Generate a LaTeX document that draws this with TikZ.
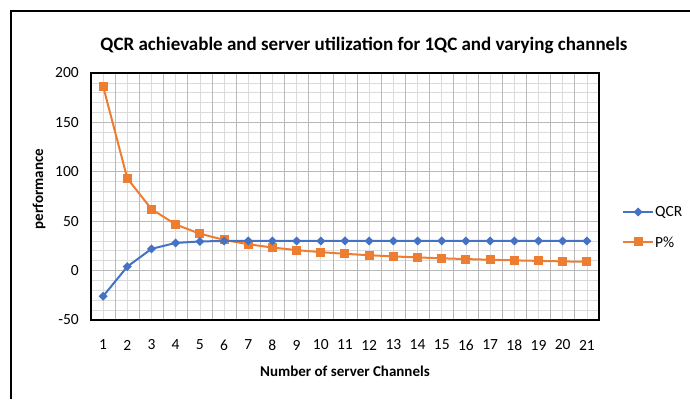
\documentclass[tikz,border=0pt]{standalone}
\usepackage{fontspec}
\setmainfont{Carlito}
\usetikzlibrary{calc}
\definecolor{qcrblue}{HTML}{4472C4}
\definecolor{porange}{HTML}{ED7D31}
\tikzset{
  minorgrid/.style={draw=gray!28, line width=0.7pt},
  majorgrid/.style={draw=gray!55, line width=0.8pt},
  qcrline/.style={draw=qcrblue, line width=2pt, line join=round},
  pline/.style={draw=porange, line width=2pt, line join=round},
  ticklabel/.style={font=\fontsize{15.5}{18}\selectfont, inner sep=0pt},
  axistitle/.style={font=\bfseries\fontsize{15}{18}\selectfont, inner sep=0pt}
}
\begin{document}
\begin{tikzpicture}[x=1pt,y=1pt]
    \useasboundingbox (0,0) rectangle (690,399);
    % Outer frame
    \draw[line width=2pt] (11,0) -- (11,388) -- (690,388);
    \node[font=\bfseries\fontsize{19}{22}\selectfont, inner sep=0pt] (title) at (364,354)
      {QCR achievable and server utilization for 1QC and varying channels};

    % Plot area: x = channel, y = performance
    \begin{scope}[shift={(78.9,128.4)}, x=24.19pt, y=0.988pt]
      % Grid
      \foreach \v in {-40,-30,...,190} \draw[minorgrid] (0.5,\v) -- (21.5,\v);
      \foreach \i in {1,...,21} \draw[minorgrid] (\i,-50) -- (\i,200);
      \foreach \v in {0,50,...,150} \draw[majorgrid] (0.5,\v) -- (21.5,\v);
      \foreach \i in {1.5,2.5,...,20.5} \draw[majorgrid] (\i,-50) -- (\i,200);
      \draw[line width=1.5pt] (0.5,-50) rectangle (21.5,200);

      % Tick labels
      \foreach \v in {-50,0,...,200}
        \node[ticklabel, anchor=east] (y\v) at ([xshift=-12pt]0.5,\v) {\v};
      \foreach \i in {1,...,21}
        \node[ticklabel] (x\i) at ([yshift=-25pt]\i,-50) {\i};
      \node[axistitle] (xtitle) at ([yshift=-51pt]11,-50) {Number of server Channels};

      % P% curve
      \draw[pline] plot[domain=1:21, samples=21] (\x, {186.7/\x});
      \foreach \i in {1,...,21}
        \fill[porange] (\i,{186.7/\i}) +(-4.5pt,-4.5pt) rectangle +(4.5pt,4.5pt);

      % QCR curve
      \draw[qcrline] (1,-26) -- (2,4) -- (3,22) -- (4,28) -- (5,29.5)
        \foreach \i in {6,...,21} { -- (\i,30) };
      \foreach \i/\q in {1/-26,2/4,3/22,4/28,5/29.5,6/30,7/30,8/30,9/30,10/30,11/30,
                         12/30,13/30,14/30,15/30,16/30,17/30,18/30,19/30,20/30,21/30}
        \fill[qcrblue] (\i,\q) +(0,4.5pt) -- +(4.5pt,0) -- +(0,-4.5pt) -- +(-4.5pt,0) -- cycle;
    \end{scope}

    \node[axistitle, rotate=90] (ytitle) at (39,210) {performance};

    % Legend
    \coordinate (qa) at (623,187);
    \coordinate (qb) at (653,187);
    \draw[qcrline] (qa) -- (qb);
    \fill[qcrblue] ($(qa)!0.5!(qb)$) +(0,4.5pt) -- +(4.5pt,0) -- +(0,-4.5pt) -- +(-4.5pt,0) -- cycle;
    \node[ticklabel, anchor=west] (qcrkey) at ([xshift=2pt]qb) {QCR};
    \coordinate (pa) at (623,157);
    \coordinate (pb) at (653,157);
    \draw[pline] (pa) -- (pb);
    \fill[porange] ($(pa)!0.5!(pb)$) +(-4.5pt,-4.5pt) rectangle +(4.5pt,4.5pt);
    \node[ticklabel, anchor=west] (pkey) at ([xshift=2pt]pb) {P\%};
\end{tikzpicture}
\end{document}
